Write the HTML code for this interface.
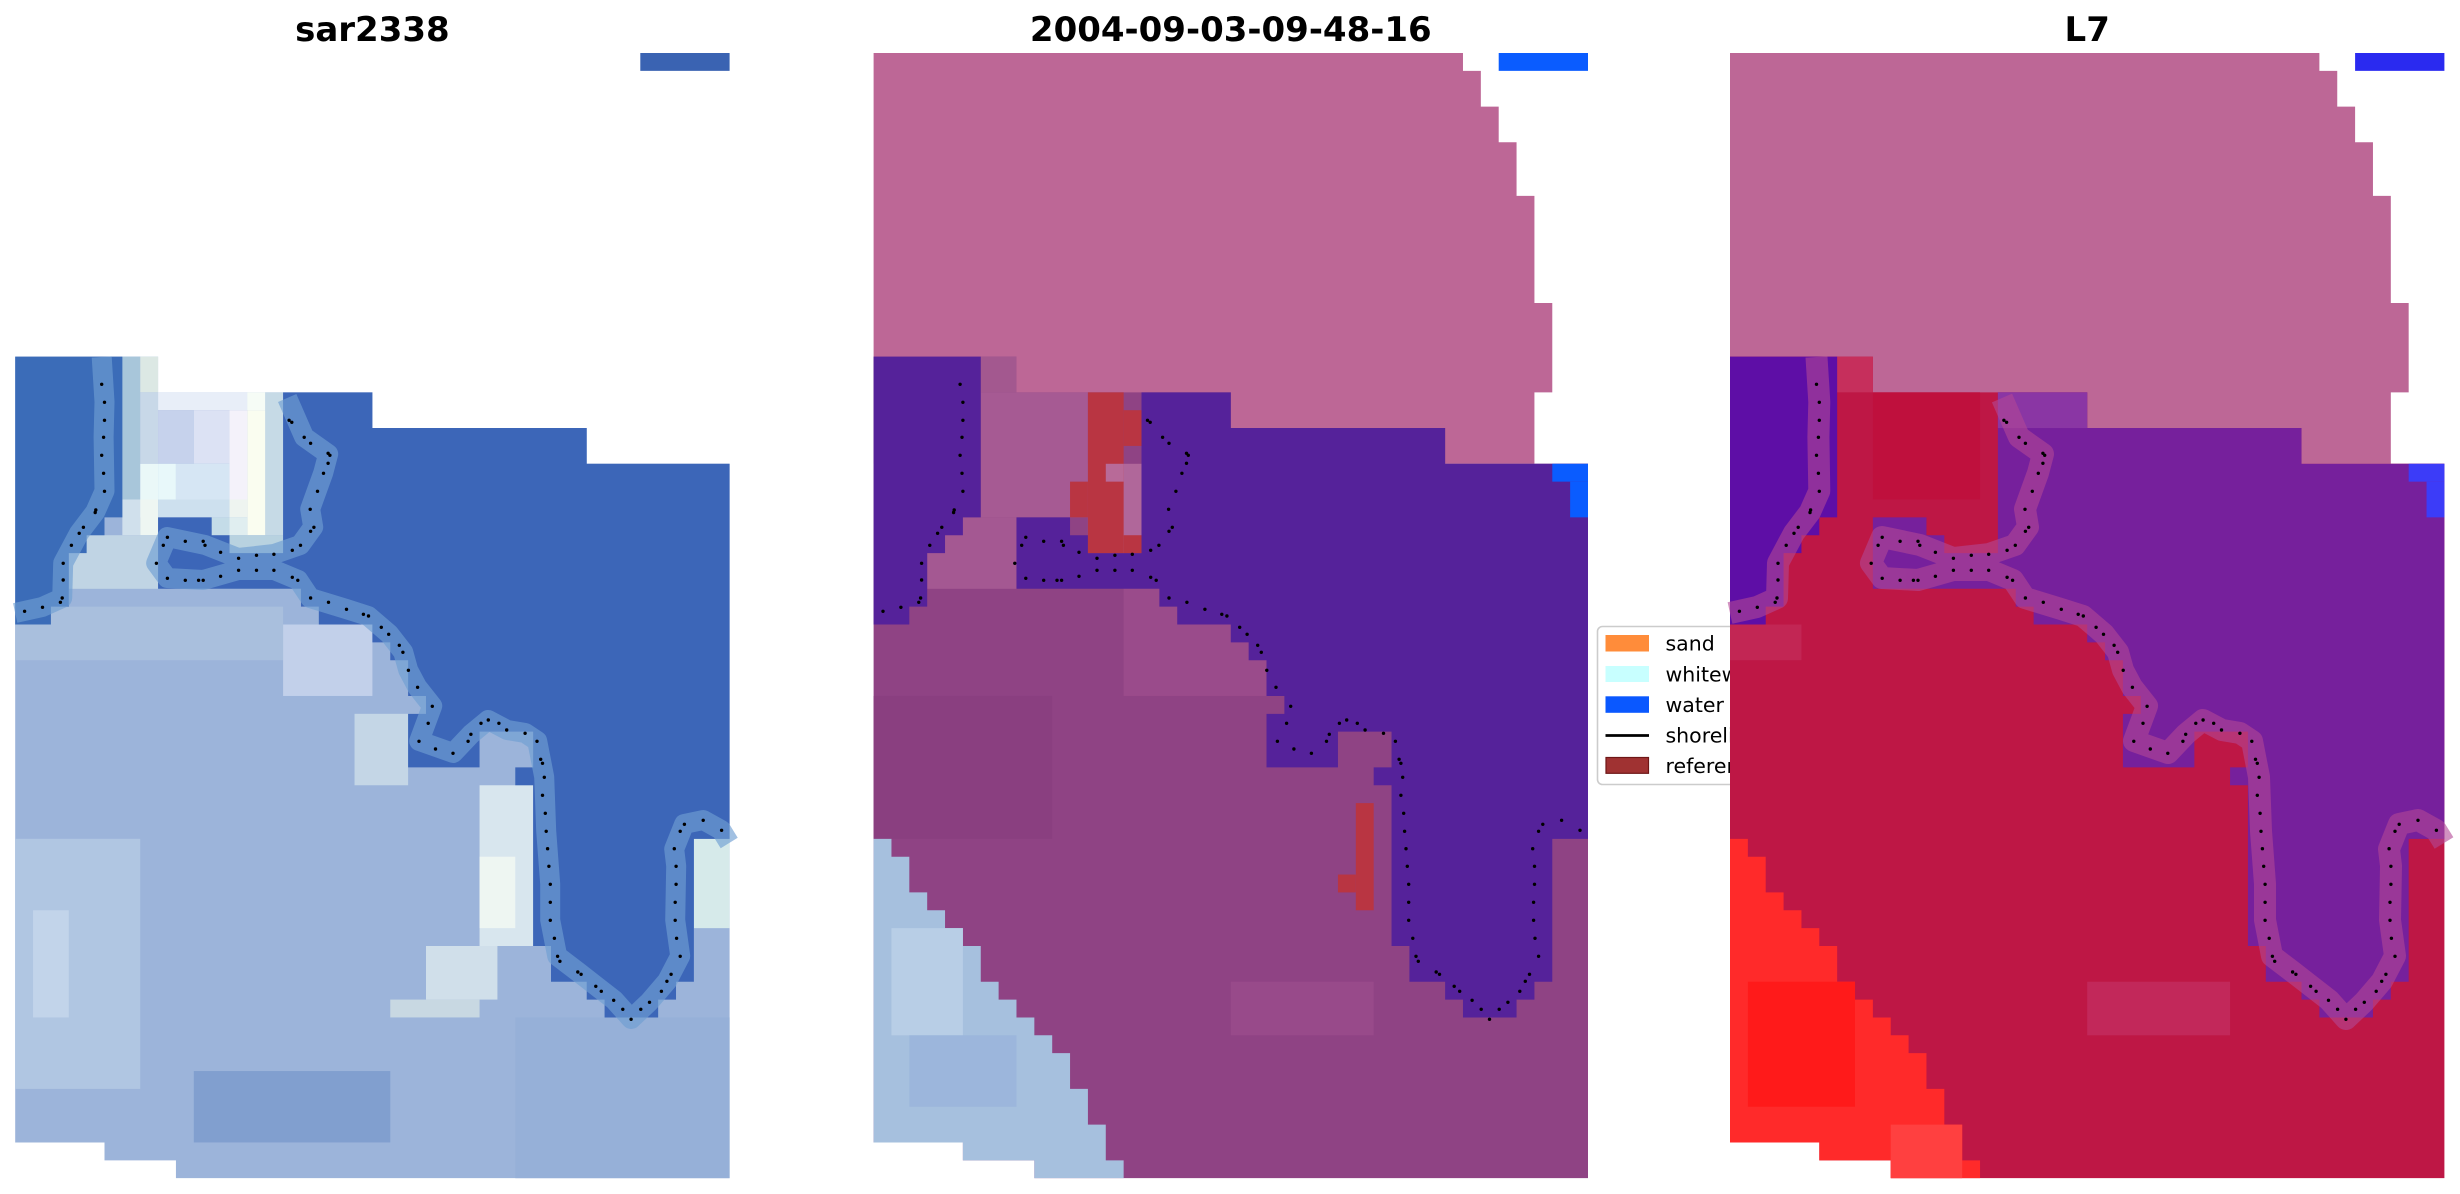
<!DOCTYPE html>
<html><head><meta charset="utf-8"><style>html,body{margin:0;padding:0;background:#fff}svg{display:block}</style></head>
<body>
<svg xmlns="http://www.w3.org/2000/svg" xmlns:xlink="http://www.w3.org/1999/xlink" width="2460" height="1194" viewBox="0 0 2460 1194">
<defs>
<clipPath id="legclip"><rect x="1590" y="600" width="140" height="200"/></clipPath>
<g id="dots" fill="#000">
<circle cx="86.5" cy="331.3" r="1.7"/><circle cx="89.3" cy="349.3" r="1.7"/><circle cx="89.3" cy="367.3" r="1.7"/><circle cx="88.4" cy="384.3" r="1.7"/><circle cx="86.5" cy="402.3" r="1.7"/><circle cx="88.4" cy="420.3" r="1.7"/><circle cx="89.3" cy="438.3" r="1.7"/><circle cx="80.6" cy="457" r="1.7"/><circle cx="80" cy="459.5" r="1.7"/><circle cx="68.2" cy="474.3" r="1.7"/><circle cx="64" cy="480.3" r="1.7"/><circle cx="56.2" cy="492.3" r="1.7"/><circle cx="48" cy="510.3" r="1.7"/><circle cx="48" cy="527" r="1.7"/><circle cx="47" cy="545" r="1.7"/><circle cx="45.2" cy="549.3" r="1.7"/><circle cx="27.3" cy="554.3" r="1.7"/><circle cx="9.4" cy="558.3" r="1.7"/>
<circle cx="273.9" cy="367.3" r="1.7"/><circle cx="276.6" cy="369.3" r="1.7"/><circle cx="289" cy="384.3" r="1.7"/><circle cx="295.4" cy="390.3" r="1.7"/><circle cx="312.9" cy="400.3" r="1.7"/><circle cx="314.7" cy="402.3" r="1.7"/><circle cx="312.9" cy="410.3" r="1.7"/><circle cx="308.3" cy="420.3" r="1.7"/><circle cx="302.3" cy="438.3" r="1.7"/><circle cx="295" cy="456.3" r="1.7"/><circle cx="298.7" cy="474.3" r="1.7"/><circle cx="295.4" cy="478.3" r="1.7"/><circle cx="285.3" cy="492.3" r="1.7"/><circle cx="277.1" cy="497.3" r="1.7"/><circle cx="258.7" cy="501.3" r="1.7"/><circle cx="241.3" cy="502.3" r="1.7"/><circle cx="223.4" cy="505.3" r="1.7"/><circle cx="205.4" cy="499.3" r="1.7"/><circle cx="189.8" cy="492.3" r="1.7"/><circle cx="188" cy="488.3" r="1.7"/><circle cx="170.1" cy="488.3" r="1.7"/><circle cx="152.2" cy="484.3" r="1.7"/><circle cx="148.1" cy="492.3" r="1.7"/><circle cx="141.2" cy="510.3" r="1.7"/><circle cx="152.2" cy="525.3" r="1.7"/><circle cx="170.1" cy="527.3" r="1.7"/><circle cx="183.4" cy="527.3" r="1.7"/><circle cx="188" cy="527.3" r="1.7"/><circle cx="205.4" cy="523.3" r="1.7"/><circle cx="223.4" cy="517.3" r="1.7"/><circle cx="241.3" cy="517.3" r="1.7"/><circle cx="258.7" cy="517.3" r="1.7"/><circle cx="277.1" cy="524.3" r="1.7"/><circle cx="282.6" cy="527.3" r="1.7"/><circle cx="295.4" cy="545" r="1.7"/><circle cx="313.3" cy="549.3" r="1.7"/><circle cx="331.3" cy="556.3" r="1.7"/><circle cx="348.2" cy="561.3" r="1.7"/><circle cx="353.3" cy="563" r="1.7"/><circle cx="366.1" cy="574.3" r="1.7"/><circle cx="373.5" cy="581.3" r="1.7"/><circle cx="384.1" cy="592.3" r="1.7"/><circle cx="387.7" cy="599.3" r="1.7"/><circle cx="393.2" cy="617.3" r="1.7"/><circle cx="402.4" cy="634.3" r="1.7"/><circle cx="417.1" cy="653.3" r="1.7"/><circle cx="413" cy="670.3" r="1.7"/><circle cx="403.8" cy="688.3" r="1.7"/><circle cx="420.3" cy="696" r="1.7"/><circle cx="437.8" cy="700.3" r="1.7"/><circle cx="452.9" cy="688.3" r="1.7"/><circle cx="455.7" cy="681.3" r="1.7"/><circle cx="465.8" cy="670.3" r="1.7"/><circle cx="473.1" cy="667" r="1.7"/><circle cx="483.7" cy="670.3" r="1.7"/><circle cx="491.5" cy="677" r="1.7"/><circle cx="509.9" cy="680.3" r="1.7"/><circle cx="521.8" cy="688.3" r="1.7"/><circle cx="525.5" cy="706.3" r="1.7"/><circle cx="527.3" cy="710.3" r="1.7"/><circle cx="529.1" cy="724.3" r="1.7"/><circle cx="527.3" cy="742.3" r="1.7"/><circle cx="530.1" cy="760.3" r="1.7"/><circle cx="531" cy="778.3" r="1.7"/><circle cx="532.4" cy="795.7" r="1.7"/><circle cx="533.7" cy="813.3" r="1.7"/><circle cx="535.1" cy="831.3" r="1.7"/><circle cx="535.1" cy="849.3" r="1.7"/><circle cx="535.1" cy="867.3" r="1.7"/><circle cx="539.2" cy="885.3" r="1.7"/><circle cx="542.4" cy="903.3" r="1.7"/><circle cx="544.7" cy="908.3" r="1.7"/><circle cx="562.6" cy="919" r="1.7"/><circle cx="565.9" cy="921.3" r="1.7"/><circle cx="580.6" cy="933.3" r="1.7"/><circle cx="586.1" cy="938.3" r="1.7"/><circle cx="598.5" cy="947.3" r="1.7"/><circle cx="607.6" cy="956.3" r="1.7"/><circle cx="615.9" cy="966.3" r="1.7"/><circle cx="625.6" cy="956.3" r="1.7"/><circle cx="634.3" cy="949.3" r="1.7"/><circle cx="646.2" cy="938.3" r="1.7"/><circle cx="651.7" cy="928.3" r="1.7"/><circle cx="655.9" cy="921.3" r="1.7"/><circle cx="665" cy="903.3" r="1.7"/><circle cx="661.4" cy="885.3" r="1.7"/><circle cx="660" cy="867.3" r="1.7"/><circle cx="660" cy="849.3" r="1.7"/><circle cx="660.9" cy="831.3" r="1.7"/><circle cx="660.9" cy="813.3" r="1.7"/><circle cx="659.1" cy="795.7" r="1.7"/><circle cx="665" cy="778.3" r="1.7"/><circle cx="669.2" cy="771.3" r="1.7"/><circle cx="688" cy="767.3" r="1.7"/><circle cx="706.4" cy="777.3" r="1.7"/>
</g>
</defs>
<rect width="2460" height="1194" fill="#fff"/>

<!-- Titles -->
<g font-family="DejaVu Sans, Liberation Sans, sans-serif" font-weight="bold" font-size="34" text-anchor="middle" fill="#000">
<text x="372.4" y="41">sar2338</text>
<text x="1230.8" y="41">2004-09-03-09-48-16</text>
<text x="2087.2" y="41">L7</text>
</g>

<!-- Panel 1 -->
<g transform="translate(15.2,53) scale(17.86)">
<rect x="35" y="0" width="5" height="1" fill="#3a63b2"/>
<polygon points="0,17 8,17 8,19 20,19 20,21 32,21 32,23 40,23 40,63 9,63 9,62 5,62 5,61 0,61" fill="#9cb4da"/>
<rect x="0" y="44" width="7" height="14" fill="#b0c6e2"/>
<rect x="1" y="48" width="2" height="6" fill="#c2d4ea"/>
<rect x="0" y="31" width="15" height="3" fill="#a9bfdd"/>
<rect x="15" y="32" width="5" height="4" fill="#c2d0ea"/>
<rect x="19" y="37" width="3" height="4" fill="#c4d6e6"/>
<rect x="26" y="41" width="3" height="9" fill="#d8e6ee"/>
<rect x="26" y="45" width="2" height="4" fill="#eef6f2"/>
<rect x="23" y="50" width="4" height="3" fill="#d0dfea"/>
<rect x="21" y="53" width="5" height="1" fill="#c8d8e2"/>
<rect x="38" y="44" width="2" height="5" fill="#d6eaea"/>
<rect x="10" y="57" width="11" height="4" fill="#819fcf"/>
<rect x="28" y="54" width="12" height="9" fill="#96b0d8"/>
<rect x="6" y="17" width="1" height="9" fill="#a8c6da"/>
<rect x="7" y="17" width="1" height="2" fill="#dce8e4"/>
<rect x="7" y="19" width="1" height="4" fill="#c8d8e8"/>
<rect x="7" y="23" width="1" height="3" fill="#eaf8f8"/>
<rect x="8" y="19" width="6" height="1" fill="#e8eef8"/>
<rect x="13" y="19" width="1" height="1" fill="#f6fcf6"/>
<rect x="14" y="19" width="1" height="8" fill="#c6dae6"/>
<rect x="8" y="20" width="2" height="3" fill="#c6d2ec"/>
<rect x="10" y="20" width="2" height="3" fill="#dce2f4"/>
<rect x="12" y="20" width="1" height="5" fill="#f4f2fa"/>
<rect x="13" y="20" width="1" height="7" fill="#fafdf0"/>
<rect x="8" y="23" width="1" height="2" fill="#e8f8fa"/>
<rect x="9" y="23" width="3" height="2" fill="#d6e6f4"/>
<rect x="6" y="25" width="1" height="2" fill="#d0e0ec"/>
<rect x="7" y="25" width="1" height="2" fill="#eef6f2"/>
<rect x="8" y="25" width="4" height="1" fill="#cde0ee"/>
<rect x="12" y="25" width="1" height="1" fill="#eef4f0"/>
<rect x="11" y="26" width="1" height="1" fill="#c4dce8"/>
<rect x="12" y="26" width="1" height="1" fill="#e0eef0"/>
<rect x="3" y="27" width="5" height="3" fill="#c0d4e4"/>
<rect x="12" y="27" width="3" height="1" fill="#b8d2e0"/>
<polygon points="0,17 6,17 6,26 5,26 5,27 4,27 4,28 3,28 3,31 2,31 2,32 0,32" fill="#3b6cb8"/>
<polygon points="15,19 20,19 20,21 32,21 32,23 40,23 40,44 38,44 38,52 37,52 37,53 36,53 36,54 33,54 33,53 32,53 32,52 30,52 30,50 29,50 29,41 28,41 28,40 29,40 29,38 26,38 26,40 22,40 22,37 23,37 23,36 22,36 22,34 21,34 21,33 20,33 20,32 17,32 17,31 16,31 16,30 8,30 8,26 11,26 11,27 12,27 12,28 15,28" fill="#3c66b8"/>
</g>
<g transform="translate(15.2,53)" fill="none" stroke="#6e9ed2" stroke-width="20" stroke-linejoin="round" stroke-linecap="butt" opacity="0.65">
<polyline points="86.5,304 89.3,349 88.4,384 89.3,438 80,459 64,480 48,510 47,545 27,554 0,560"/>
<polyline points="272,345 289,384 313,401 308,420 295,456 298,474 285,492 259,501 223,505 190,492 152,484 141,510 152,525 188,527 223,517 259,517 283,527 295,545 331,556 353,563 374,581 388,599 393,617 402,634 417,653 404,688 438,700 456,681 473,667 492,677 510,680 522,688 529,724 531,778 535,831 535,867 542,903 563,919 581,933 599,947 616,966 634,949 652,928 665,903 660,867 661,813 659,796 669,771 688,767 706,777 714,790"/>
</g>
<use xlink:href="#dots" href="#dots" transform="translate(15.2,53)"/>

<!-- Panel 2 -->
<g transform="translate(873.6,53) scale(17.86)">
<polygon points="0,0 33,0 33,1 34,1 34,3 35,3 35,5 36,5 36,8 37,8 37,14 38,14 38,19 37,19 37,23 0,23" fill="#bd6796"/>
<rect x="35" y="0" width="5" height="1" fill="#0a5cff"/>
<polygon points="0,17 8,17 8,19 20,19 20,21 32,21 32,23 40,23 40,63 9,63 9,62 5,62 5,61 0,61" fill="#8f4384"/>
<rect x="6" y="17" width="2" height="2" fill="#a3588f"/>
<rect x="6" y="19" width="6" height="7" fill="#a65a93"/>
<rect x="3" y="26" width="5" height="4" fill="#a45892"/>
<rect x="12" y="23" width="3" height="5" fill="#b0679a"/>
<rect x="14" y="28" width="8" height="8" fill="#9a4b8b"/>
<rect x="20" y="52" width="8" height="3" fill="#984a8a"/>
<rect x="0" y="36" width="10" height="8" fill="#8a3f80"/>
<polygon points="0,44 1,44 1,45 2,45 2,47 3,47 3,48 4,48 4,49 5,49 5,50 6,50 6,52 7,52 7,53 8,53 8,54 9,54 9,55 10,55 10,56 11,56 11,58 12,58 12,60 13,60 13,62 14,62 14,63 9,63 9,62 5,62 5,61 0,61" fill="#a6c0de"/>
<rect x="1" y="49" width="4" height="6" fill="#b8cee6"/>
<rect x="2" y="55" width="6" height="4" fill="#9cb6dc"/>
<polygon points="0,17 6,17 6,26 5,26 5,27 4,27 4,28 3,28 3,31 2,31 2,32 0,32" fill="#55229a"/>
<polygon points="15,19 20,19 20,21 32,21 32,23 40,23 40,44 38,44 38,52 37,52 37,53 36,53 36,54 33,54 33,53 32,53 32,52 30,52 30,50 29,50 29,41 28,41 28,40 29,40 29,38 26,38 26,40 22,40 22,37 23,37 23,36 22,36 22,34 21,34 21,33 20,33 20,32 17,32 17,31 16,31 16,30 8,30 8,26 11,26 11,27 12,27 12,28 15,28" fill="#55229a"/>
<rect x="38" y="23" width="2" height="1" fill="#0a5cff"/>
<rect x="39" y="24" width="1" height="2" fill="#0a5cff"/>
<rect x="12" y="19" width="2" height="9" fill="#b93542"/>
<rect x="14" y="20" width="1" height="2" fill="#b93542"/>
<rect x="11" y="24" width="1" height="2" fill="#b93542"/>
<rect x="14" y="27" width="1" height="1" fill="#b93542"/>
<rect x="13" y="23" width="1" height="1" fill="#b86a98"/>
<rect x="27" y="42" width="1" height="6" fill="#b93542"/>
<rect x="26" y="46" width="1" height="1" fill="#b93542"/>
</g>
<use xlink:href="#dots" href="#dots" transform="translate(873.6,53)"/>

<!-- Legend -->
<g clip-path="url(#legclip)">
<rect x="1597.5" y="626.5" width="220" height="158" rx="5" fill="#fff" stroke="#cccccc" stroke-width="1.6"/>
<rect x="1605.5" y="635" width="43.5" height="16.5" fill="#ff8c3a"/>
<rect x="1605.5" y="666" width="43.5" height="16" fill="#c8ffff"/>
<rect x="1605.5" y="696.3" width="43.5" height="16.5" fill="#0a58ff"/>
<line x1="1605.5" y1="735.5" x2="1649" y2="735.5" stroke="#000" stroke-width="2.8"/>
<rect x="1606" y="757.5" width="42.5" height="15.8" fill="#a03232" stroke="#6e1616" stroke-width="1.2"/>
<g font-family="DejaVu Sans, Liberation Sans, sans-serif" font-size="20.5" fill="#000">
<text x="1665.5" y="650.7">sand</text>
<text x="1665.5" y="681.3">whitewater</text>
<text x="1665.5" y="711.9">water</text>
<text x="1665.5" y="742.5">shoreline</text>
<text x="1665.5" y="773">reference</text>
</g>
</g>

<!-- Panel 3 -->
<g transform="translate(1730,53) scale(17.86)">
<polygon points="0,0 33,0 33,1 34,1 34,3 35,3 35,5 36,5 36,8 37,8 37,14 38,14 38,19 37,19 37,23 0,23" fill="#bd6796"/>
<rect x="35" y="0" width="5" height="1" fill="#2a2af0"/>
<polygon points="0,17 8,17 8,19 20,19 20,21 32,21 32,23 40,23 40,63 9,63 9,62 5,62 5,61 0,61" fill="#be1745"/>
<rect x="4" y="17" width="4" height="2" fill="#c62f5c"/>
<rect x="8" y="19" width="6" height="6" fill="#bf103d"/>
<rect x="0" y="32" width="4" height="2" fill="#c22654"/>
<rect x="20" y="52" width="8" height="3" fill="#c2285a"/>
<polygon points="0,44 1,44 1,45 2,45 2,47 3,47 3,48 4,48 4,49 5,49 5,50 6,50 6,52 7,52 7,53 8,53 8,54 9,54 9,55 10,55 10,56 11,56 11,58 12,58 12,60 13,60 13,62 14,62 14,63 9,63 9,62 5,62 5,61 0,61" fill="#ff2a2a"/>
<rect x="1" y="52" width="6" height="7" fill="#ff1a1a"/>
<rect x="9" y="60" width="4" height="3" fill="#ff4040"/>
<polygon points="0,17 6,17 6,26 5,26 5,27 4,27 4,28 3,28 3,31 2,31 2,32 0,32" fill="#5e0ea6"/>
<polygon points="15,19 20,19 20,21 32,21 32,23 40,23 40,44 38,44 38,52 37,52 37,53 36,53 36,54 33,54 33,53 32,53 32,52 30,52 30,50 29,50 29,41 28,41 28,40 29,40 29,38 26,38 26,40 22,40 22,37 23,37 23,36 22,36 22,34 21,34 21,33 20,33 20,32 17,32 17,31 16,31 16,30 8,30 8,26 11,26 11,27 12,27 12,28 15,28" fill="#76209c"/>
<rect x="15" y="19" width="5" height="2" fill="#8a36a4"/>
<rect x="38" y="23" width="2" height="1" fill="#3c3cf8"/>
<rect x="39" y="24" width="1" height="2" fill="#3c3cf8"/>
</g>
<g transform="translate(1730,53)" fill="none" stroke="#b24896" stroke-width="22" stroke-linejoin="round" stroke-linecap="butt" opacity="0.6">
<polyline points="86.5,304 89.3,349 88.4,384 89.3,438 80,459 64,480 48,510 47,545 27,554 0,560"/>
<polyline points="272,345 289,384 313,401 308,420 295,456 298,474 285,492 259,501 223,505 190,492 152,484 141,510 152,525 188,527 223,517 259,517 283,527 295,545 331,556 353,563 374,581 388,599 393,617 402,634 417,653 404,688 438,700 456,681 473,667 492,677 510,680 522,688 529,724 531,778 535,831 535,867 542,903 563,919 581,933 599,947 616,966 634,949 652,928 665,903 660,867 661,813 659,796 669,771 688,767 706,777 714,790"/>
</g>
<use xlink:href="#dots" href="#dots" transform="translate(1730,53)"/>
</svg>
</body></html>
